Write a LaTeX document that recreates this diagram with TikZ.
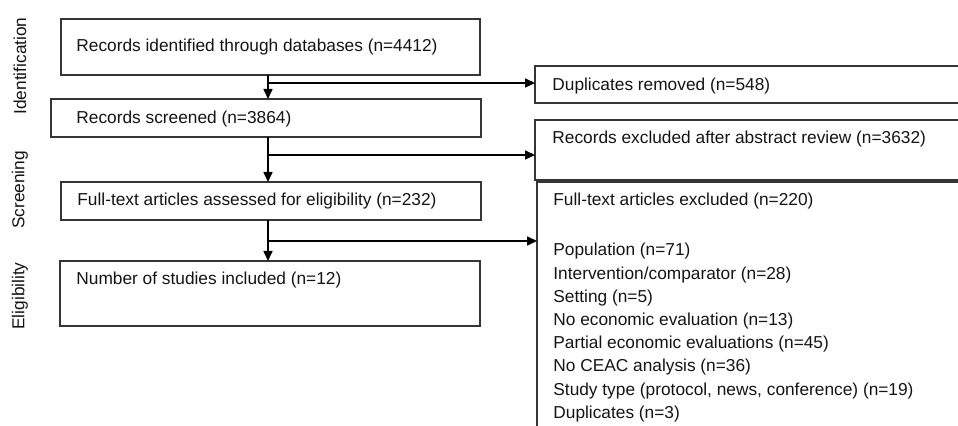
\documentclass[tikz,border=0pt]{standalone}
\usepackage{fontspec}
\setmainfont{Liberation Sans}
\usetikzlibrary{arrows.meta}
\definecolor{boxgray}{HTML}{353535}
\definecolor{textgray}{HTML}{141414}
\begin{document}
\begin{tikzpicture}[x=0.5pt,y=-0.5pt,
  box/.style={draw=boxgray,line width=0.85pt,anchor=north west,inner sep=0pt,outer sep=0pt},
  txt/.style={anchor=west,inner sep=0pt,text=textgray,font=\fontsize{8.65}{10}\selectfont},
  side/.style={rotate=90,inner sep=0pt,text=textgray,font=\fontsize{8.65}{10}\selectfont},
  arr/.style={draw=black,line width=0.8pt,-{Triangle[length=5pt,width=4.5pt]}}]
\useasboundingbox (0,0) rectangle (958,426);
\clip (0,0) rectangle (958,426);
% left column boxes
\node[box,minimum width=209.5pt,minimum height=28pt] (b1) at (61,19) {};
\node[box,minimum width=215pt,minimum height=19pt] (b2) at (51,99) {};
\node[box,minimum width=210pt,minimum height=19pt] (b3) at (61,182) {};
\node[box,minimum width=210pt,minimum height=32.5pt] (b4) at (60,261) {};
% right column boxes
\node[box,minimum width=232.5pt,minimum height=18.5pt] (dup) at (535,66) {};
\node[box,minimum width=232.5pt,minimum height=30pt] (rex) at (535,120) {};
\node[box,minimum width=232.5pt,minimum height=139pt] (ftx) at (537,182) {};
% texts
\node[txt] (t1) at (76,47) {Records identified through databases (n=4412)};
\node[txt] (t2) at (76,119) {Records screened (n=3864)};
\node[txt] (t3) at (77,201.5) {Full-text articles assessed for eligibility (n=232)};
\node[txt] (t4) at (76,280.5) {Number of studies included (n=12)};
\node[txt] (tdup) at (552,86) {Duplicates removed (n=548)};
\node[txt] (trex) at (552,139.5) {Records excluded after abstract review (n=3632)};
\node[txt] (tftx) at (553,201.5) {Full-text articles excluded (n=220)};
\node[txt] (l1) at (553,251.5) {Population (n=71)};
\node[txt] (l2) at (553,274.7) {Intervention/comparator (n=28)};
\node[txt] (l3) at (553,297.9) {Setting (n=5)};
\node[txt] (l4) at (553,321.1) {No economic evaluation (n=13)};
\node[txt] (l5) at (553,344.3) {Partial economic evaluations (n=45)};
\node[txt] (l6) at (553,367.5) {No CEAC analysis (n=36)};
\node[txt] (l7) at (553,390.7) {Study type (protocol, news, conference) (n=19)};
\node[txt] (l8) at (553,413.9) {Duplicates (n=3)};
% side labels
\node[side] (sid) at (20,66) {Identification};
\node[side] (sscr) at (20,190) {Screening};
\node[side] (self) at (20,296) {Eligibility};
% connectors
\coordinate (j1) at (268,83);
\coordinate (j2) at (268,155);
\coordinate (j3) at (268,241);
\draw[arr] (b1.south -| j1) -- (b2.north -| j1);
\draw[arr] (j1) -- (dup.west |- j1);
\draw[arr] (b2.south -| j2) -- (b3.north -| j2);
\draw[arr] (j2) -- (rex.west |- j2);
\draw[arr] (b3.south -| j3) -- (b4.north -| j3);
\draw[arr] (j3) -- (ftx.west |- j3);
\end{tikzpicture}
\end{document}
